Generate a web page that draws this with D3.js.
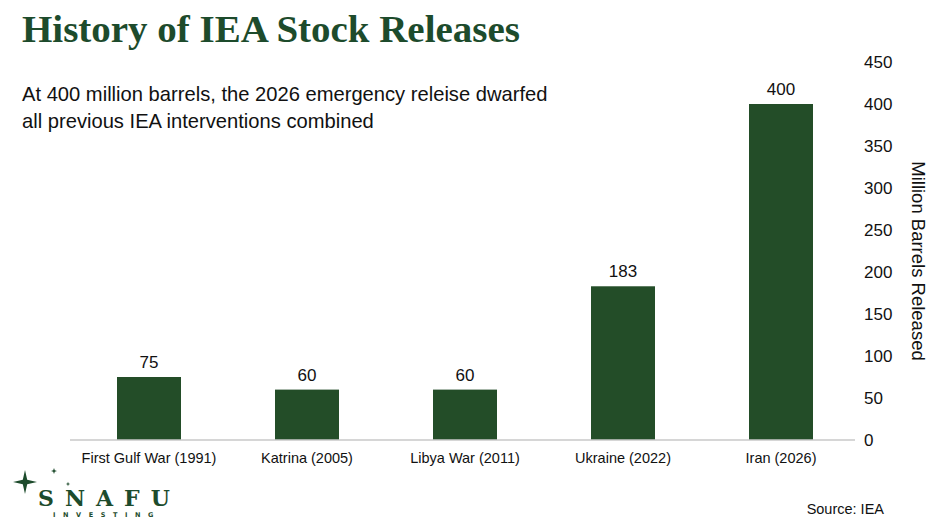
<!DOCTYPE html>
<html>
<head>
<meta charset="utf-8">
<script src="https://cdn.jsdelivr.net/npm/d3@7"></script>
<style>
  html, body { margin: 0; padding: 0; background: #fff; }
  svg { display: block; }
</style>
</head>
<body>
<svg id="chart" width="940" height="529"></svg>
<script>
// data
const events = ["First Gulf War (1991)", "Katrina (2005)", "Libya War (2011)", "Ukraine (2022)", "Iran (2026)"];
const barrels = [75, 60, 60, 183, 400];
const yTicks = [0, 50, 100, 150, 200, 250, 300, 350, 400, 450];

const green = "#1d4b2c";
const barGreen = "#234d28";
const sans = "'Liberation Sans', Arial, sans-serif";

const svg = d3.select("#chart");

// title + subtitle
const title = svg.append("text")
    .attr("x", 22)
    .attr("y", 42)
    .attr("fill", green)
    .style("font-family", "'Liberation Serif', 'Times New Roman', serif")
    .style("font-weight", "bold")
    .style("font-size", "40px")
    .text("History of IEA Stock Releases");
// fit title to the width seen in the picture
const tw = title.node().getComputedTextLength();
title.style("font-size", (40 * 498 / tw) + "px");

const subLines = [
    "At 400 million barrels, the 2026 emergency releise dwarfed",
    "all previous IEA interventions combined"
];
const subs = svg.selectAll("text.sub")
    .data(subLines)
    .join("text")
    .attr("class", "sub")
    .attr("x", 22)
    .attr("y", (d, i) => 101 + i * 27)
    .attr("fill", "#111")
    .style("font-family", sans)
    .style("font-size", "18px")
    .text(d => d);
const sw = subs.nodes()[0].getComputedTextLength();
subs.style("font-size", (18 * 526 / sw) + "px");

// scales
const x = d3.scaleBand()
    .domain(events)
    .range([70, 860])
    .paddingInner(0.595)
    .paddingOuter(0.2975);

const y = d3.scaleLinear()
    .domain([0, 450])
    .range([440, 62]);

// bars
svg.selectAll("rect.bar")
    .data(barrels)
    .join("rect")
    .attr("class", "bar")
    .attr("x", (d, i) => x(events[i]))
    .attr("y", d => y(d))
    .attr("width", x.bandwidth())
    .attr("height", d => y(0) - y(d))
    .attr("fill", barGreen);

// value labels
svg.selectAll("text.val")
    .data(barrels)
    .join("text")
    .attr("class", "val")
    .attr("x", (d, i) => x(events[i]) + x.bandwidth() / 2)
    .attr("y", d => y(d) - 9)
    .attr("text-anchor", "middle")
    .attr("fill", "#111")
    .style("font-family", sans)
    .style("font-size", "17px")
    .text(d => d);

// baseline
svg.append("line")
    .attr("x1", 70)
    .attr("x2", 855)
    .attr("y1", y(0))
    .attr("y2", y(0))
    .attr("stroke", "#c9c9c9")
    .attr("stroke-width", 1.5);

// category axis
const xAxis = svg.append("g")
    .attr("transform", `translate(0, ${y(0)})`)
    .call(d3.axisBottom(x).tickSize(0).tickPadding(13));
xAxis.select(".domain").remove();
xAxis.selectAll("text")
    .attr("fill", "#111")
    .style("font-family", sans)
    .style("font-size", "14.5px");

// value axis on the right
const yAxis = svg.append("g")
    .attr("transform", "translate(860, 0)")
    .call(d3.axisRight(y).tickValues(yTicks).tickSize(0).tickPadding(4));
yAxis.select(".domain").remove();
yAxis.selectAll("text")
    .attr("fill", "#111")
    .style("font-family", sans)
    .style("font-size", "17px");

svg.append("text")
    .attr("transform", `translate(912, ${(y(0) + y(450)) / 2 + 10}) rotate(90)`)
    .attr("text-anchor", "middle")
    .attr("fill", "#111")
    .style("font-family", sans)
    .style("font-size", "18.5px")
    .text("Million Barrels Released");

// source
svg.append("text")
    .attr("x", 884)
    .attr("y", 514)
    .attr("text-anchor", "end")
    .attr("fill", "#111")
    .style("font-family", sans)
    .style("font-size", "14.5px")
    .text("Source: IEA");

// logo
function sparkle(cx, cy, r, w) {
    return `M${cx},${cy - r} L${cx + w},${cy - w} L${cx + r},${cy} L${cx + w},${cy + w} ` +
        `L${cx},${cy + r} L${cx - w},${cy + w} L${cx - r},${cy} L${cx - w},${cy - w} Z`;
}
const logo = svg.append("g").attr("fill", green);
logo.append("path").attr("d", sparkle(25, 482, 12, 2.2));
logo.append("path").attr("d", sparkle(54, 471, 3, 0.8));
logo.append("path").attr("d", sparkle(68, 484, 2.2, 0.6));

logo.append("text")
    .attr("x", 38)
    .attr("y", 506)
    .style("font-family", "'DejaVu Serif', serif")
    .style("font-weight", "bold")
    .style("font-size", "22px")
    .style("letter-spacing", "11px")
    .text("SNAFU");
logo.append("text")
    .attr("x", 53)
    .attr("y", 517)
    .style("font-family", "'DejaVu Sans', sans-serif")
    .style("font-weight", "bold")
    .style("font-size", "6.5px")
    .style("letter-spacing", "7.6px")
    .text("INVESTING");
</script>
</body>
</html>
